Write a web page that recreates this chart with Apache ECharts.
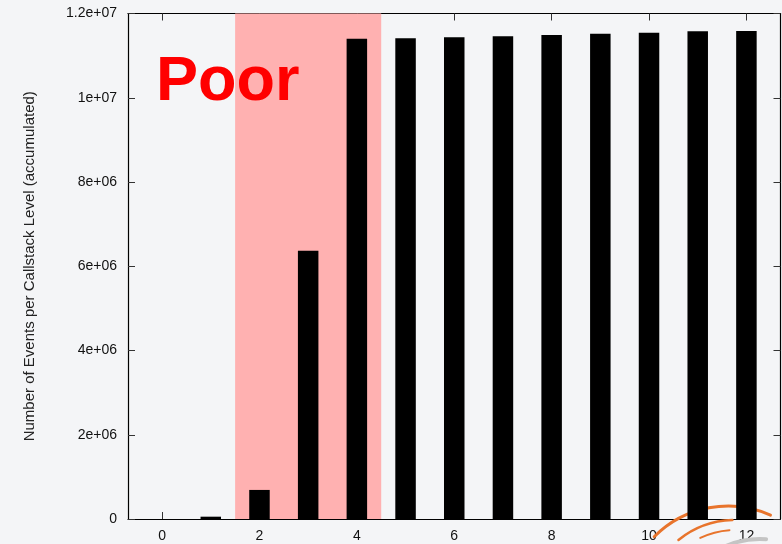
<!DOCTYPE html>
<html>
<head>
<meta charset="utf-8">
<script src="https://cdn.jsdelivr.net/npm/echarts@6/dist/echarts.min.js"></script>
<style>
  html, body { margin: 0; padding: 0; background: #f4f5f7; }
  #chart { width: 782px; height: 544px; }
</style>
</head>
<body>
<div id="chart"></div>
<script>
// callstack levels and accumulated event counts
const levels = [0, 1, 2, 3, 4, 5, 6, 7, 8, 9, 10, 11, 12];
const events = [0, 55000, 690000, 6365000, 11400000, 11410000, 11435000,
                11460000, 11490000, 11520000, 11545000, 11580000, 11585000];
const xTicks = [0, 2, 4, 6, 8, 10, 12];
const poorRange = [1.5, 4.5];

const font = '"Liberation Sans", Arial, Helvetica, sans-serif';

// gnuplot-ish exponent labels: 1.2e+07, 8e+06
function sciLabel(v) {
    if (v === 0) return '0';
    const parts = v.toExponential().split('e');
    let exp = parseInt(parts[1], 10);
    const sign = exp < 0 ? '-' : '+';
    exp = Math.abs(exp);
    return parts[0] + 'e' + sign + (exp < 10 ? '0' + exp : exp);
}

const chart = echarts.init(document.getElementById('chart'));

const xCommon = {
    type: 'value',
    min: -0.7,
    max: 12.7,
    splitLine: {show: false},
    axisLine: {onZero: false, lineStyle: {color: '#000', width: 1.2}},
    axisTick: {inside: true, length: 7, customValues: xTicks, lineStyle: {color: '#333', width: 1}}
};
const yCommon = {
    type: 'value',
    min: 0,
    max: 12000000,
    interval: 2000000,
    splitLine: {show: false},
    axisLine: {show: true, onZero: false, lineStyle: {color: '#000', width: 1.2}},
    axisTick: {show: true, inside: true, length: 7, lineStyle: {color: '#333', width: 1}}
};

// slide decoration in the lower right corner (behind the bars)
const swoosh = {color: '#e8742c', lineCap: 'round'};

const option = {
    backgroundColor: '#f4f5f7',
    animation: false,
    grid: {left: 128, right: 1.5, top: 13.5, bottom: 25, containLabel: false},
    xAxis: [
        Object.assign({}, xCommon, {
            position: 'bottom',
            axisLabel: {customValues: xTicks, color: '#111', fontSize: 14, fontFamily: font, margin: 10}
        }),
        Object.assign({}, xCommon, {
            position: 'top',
            axisLabel: {show: false}
        })
    ],
    yAxis: [
        Object.assign({}, yCommon, {
            position: 'left',
            name: 'Number of Events per Callstack Level (accumulated)',
            nameLocation: 'middle',
            nameGap: 91,
            nameTextStyle: {color: '#222', fontSize: 15, fontFamily: font},
            axisLabel: {color: '#111', fontSize: 14, fontFamily: font, margin: 11, formatter: sciLabel}
        }),
        Object.assign({}, yCommon, {
            position: 'right',
            axisLabel: {show: false}
        })
    ],
    graphic: [
        {
            type: 'arc', z: 1, silent: true,
            shape: {cx: 728, cy: 610, r: 104, startAngle: -2.36, endAngle: -1.15},
            style: {stroke: swoosh.color, lineWidth: 3, fill: 'none', lineCap: swoosh.lineCap}
        },
        {
            type: 'arc', z: 1, silent: true,
            shape: {cx: 735, cy: 610, r: 90, startAngle: -2.25, endAngle: -1.6},
            style: {stroke: swoosh.color, lineWidth: 2.5, fill: 'none', lineCap: swoosh.lineCap}
        },
        {
            type: 'arc', z: 1, silent: true,
            shape: {cx: 735, cy: 610, r: 80, startAngle: -2.02, endAngle: -1.64},
            style: {stroke: swoosh.color, lineWidth: 2, fill: 'none', lineCap: swoosh.lineCap}
        },
        {
            type: 'arc', z: 1, silent: true,
            shape: {cx: 760, cy: 625, r: 86, startAngle: -2.1, endAngle: -1.5},
            style: {stroke: '#c4c4c4', lineWidth: 4, fill: 'none', lineCap: 'round'}
        },
        {
            type: 'text',
            z: 100,
            x: 156,
            y: 51,
            style: {
                text: 'Poor',
                fill: '#ff0000',
                font: 'bold 63px ' + font,
                verticalAlign: 'top'
            }
        }
    ],
    series: [
        {
            name: 'poor',
            type: 'line',
            data: [],
            z: 1,
            markArea: {
                silent: true,
                itemStyle: {color: '#ffb1b1'},
                data: [[{xAxis: poorRange[0]}, {xAxis: poorRange[1]}]]
            }
        },
        {
            name: 'events',
            type: 'bar',
            z: 3,
            barWidth: 20.5,
            itemStyle: {color: '#000'},
            data: levels.map((l, i) => [l, events[i]])
        }
    ]
};

chart.setOption(option);
</script>
</body>
</html>
